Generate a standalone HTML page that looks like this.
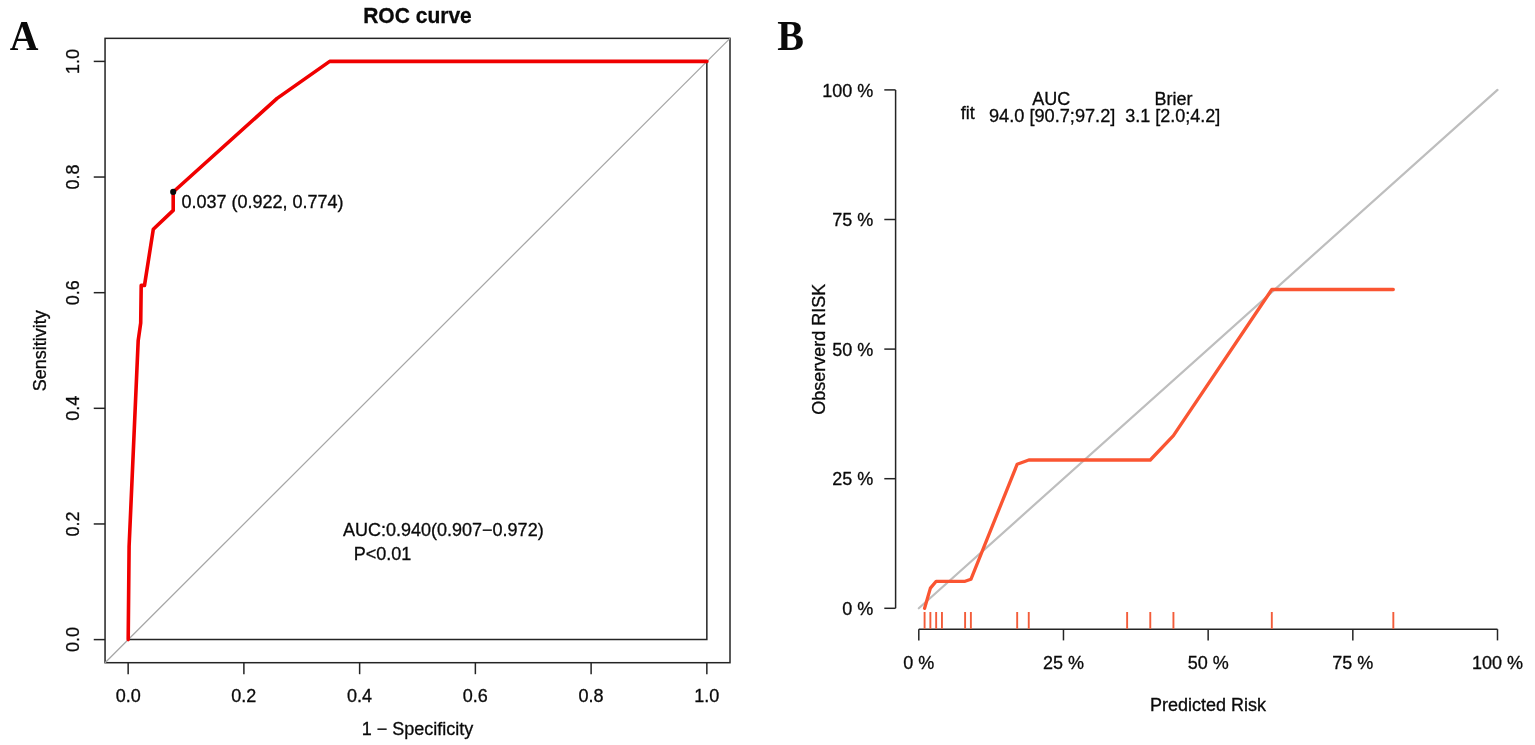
<!DOCTYPE html>
<html lang="en"><head><meta charset="utf-8"><title>ROC curve and calibration plot</title>
<style>html,body{margin:0;padding:0;background:#fff;}body{width:1535px;height:745px;overflow:hidden;}svg{display:block;}
text{font-family:"Liberation Sans",Arial,Helvetica,sans-serif;font-size:18px;fill:#0a0a0a;stroke:#0a0a0a;stroke-width:0.3px;}
.serif{font-family:"Liberation Serif","Times New Roman",Times,serif;font-weight:bold;font-size:43px;stroke:none;}
.title{font-weight:bold;font-size:21.6px;}
.ln{stroke:#242424;stroke-width:1.5;fill:none;}
</style></head><body>
<svg width="1535" height="745" viewBox="0 0 1535 745">
<rect x="0" y="0" width="1535" height="745" fill="#ffffff"/>
<text class="serif" x="9.7" y="50" textLength="28.7" lengthAdjust="spacingAndGlyphs">A</text>
<text class="title" x="417.5" y="23" text-anchor="middle" textLength="108.6" lengthAdjust="spacingAndGlyphs">ROC curve</text>
<rect class="ln" x="105.05" y="38.35" width="624.95" height="624.35"/>
<line class="ln" x1="128.15" y1="662.7" x2="128.15" y2="674.2"/>
<text x="128.15" y="702.3" text-anchor="middle">0.0</text>
<line class="ln" x1="93.75" y1="639.60" x2="105.05" y2="639.60"/>
<text transform="translate(79 639.60) rotate(-90)" text-anchor="middle">0.0</text>
<line class="ln" x1="243.89" y1="662.7" x2="243.89" y2="674.2"/>
<text x="243.89" y="702.3" text-anchor="middle">0.2</text>
<line class="ln" x1="93.75" y1="523.96" x2="105.05" y2="523.96"/>
<text transform="translate(79 523.96) rotate(-90)" text-anchor="middle">0.2</text>
<line class="ln" x1="359.63" y1="662.7" x2="359.63" y2="674.2"/>
<text x="359.63" y="702.3" text-anchor="middle">0.4</text>
<line class="ln" x1="93.75" y1="408.32" x2="105.05" y2="408.32"/>
<text transform="translate(79 408.32) rotate(-90)" text-anchor="middle">0.4</text>
<line class="ln" x1="475.37" y1="662.7" x2="475.37" y2="674.2"/>
<text x="475.37" y="702.3" text-anchor="middle">0.6</text>
<line class="ln" x1="93.75" y1="292.68" x2="105.05" y2="292.68"/>
<text transform="translate(79 292.68) rotate(-90)" text-anchor="middle">0.6</text>
<line class="ln" x1="591.11" y1="662.7" x2="591.11" y2="674.2"/>
<text x="591.11" y="702.3" text-anchor="middle">0.8</text>
<line class="ln" x1="93.75" y1="177.04" x2="105.05" y2="177.04"/>
<text transform="translate(79 177.04) rotate(-90)" text-anchor="middle">0.8</text>
<line class="ln" x1="706.85" y1="662.7" x2="706.85" y2="674.2"/>
<text x="706.85" y="702.3" text-anchor="middle">1.0</text>
<line class="ln" x1="93.75" y1="61.40" x2="105.05" y2="61.40"/>
<text transform="translate(79 61.40) rotate(-90)" text-anchor="middle">1.0</text>
<text x="417.5" y="734.6" text-anchor="middle">1 − Specificity</text>
<text transform="translate(45.9 350.8) rotate(-90)" text-anchor="middle">Sensitivity</text>
<line x1="105.05" y1="662.7" x2="730.0" y2="38.35" stroke="#a6a6a6" stroke-width="1.25"/>
<polyline class="ln" points="128.15,639.60 706.85,639.60 706.85,61.40"/>
<polyline points="128.2,639.6 129.1,546.5 138.2,340.4 140.7,323.0 141.2,285.4 144.5,285.4 153.3,229.2 173.2,210.4 173.2,192.0 277.1,98.4 329.7,61.4 706.9,61.4" fill="none" stroke="#f00000" stroke-width="3.6" stroke-linejoin="round" stroke-linecap="round"/>
<circle cx="173.2" cy="191.9" r="3.05" fill="#0a0a0a"/>
<text x="181.4" y="208.3">0.037 (0.922, 0.774)</text>
<text x="343" y="535.6">AUC:0.940(0.907−0.972)</text>
<text x="353.8" y="559.5">P&lt;0.01</text>
<text class="serif" x="777.2" y="50" textLength="26.7" lengthAdjust="spacingAndGlyphs">B</text>
<line class="ln" x1="895.6" y1="608.30" x2="895.6" y2="89.90"/>
<line class="ln" x1="918.80" y1="629.2" x2="1497.50" y2="629.2"/>
<line class="ln" x1="884.3" y1="608.30" x2="895.6" y2="608.30"/>
<text x="873.2" y="615.00" text-anchor="end">0 %</text>
<line class="ln" x1="918.80" y1="629.2" x2="918.80" y2="640.4"/>
<text x="918.80" y="668.6" text-anchor="middle">0 %</text>
<line class="ln" x1="884.3" y1="478.70" x2="895.6" y2="478.70"/>
<text x="873.2" y="485.40" text-anchor="end">25 %</text>
<line class="ln" x1="1063.47" y1="629.2" x2="1063.47" y2="640.4"/>
<text x="1063.47" y="668.6" text-anchor="middle">25 %</text>
<line class="ln" x1="884.3" y1="349.10" x2="895.6" y2="349.10"/>
<text x="873.2" y="355.80" text-anchor="end">50 %</text>
<line class="ln" x1="1208.15" y1="629.2" x2="1208.15" y2="640.4"/>
<text x="1208.15" y="668.6" text-anchor="middle">50 %</text>
<line class="ln" x1="884.3" y1="219.50" x2="895.6" y2="219.50"/>
<text x="873.2" y="226.20" text-anchor="end">75 %</text>
<line class="ln" x1="1352.83" y1="629.2" x2="1352.83" y2="640.4"/>
<text x="1352.83" y="668.6" text-anchor="middle">75 %</text>
<line class="ln" x1="884.3" y1="89.90" x2="895.6" y2="89.90"/>
<text x="873.2" y="96.60" text-anchor="end">100 %</text>
<line class="ln" x1="1497.50" y1="629.2" x2="1497.50" y2="640.4"/>
<text x="1497.50" y="668.6" text-anchor="middle">100 %</text>
<text x="1208" y="711.3" text-anchor="middle">Predicted Risk</text>
<text transform="translate(825.4 349.3) rotate(-90)" text-anchor="middle">Observerd RISK</text>
<line x1="918.80" y1="608.30" x2="1497.50" y2="89.90" stroke="#bebebe" stroke-width="2.2" stroke-linecap="round"/>
<line x1="924.59" y1="612" x2="924.59" y2="628.8" stroke="#f35c3a" stroke-width="1.9"/>
<line x1="930.37" y1="612" x2="930.37" y2="628.8" stroke="#f35c3a" stroke-width="1.9"/>
<line x1="936.16" y1="612" x2="936.16" y2="628.8" stroke="#f35c3a" stroke-width="1.9"/>
<line x1="941.95" y1="612" x2="941.95" y2="628.8" stroke="#f35c3a" stroke-width="1.9"/>
<line x1="965.10" y1="612" x2="965.10" y2="628.8" stroke="#f35c3a" stroke-width="1.9"/>
<line x1="970.88" y1="612" x2="970.88" y2="628.8" stroke="#f35c3a" stroke-width="1.9"/>
<line x1="1017.18" y1="612" x2="1017.18" y2="628.8" stroke="#f35c3a" stroke-width="1.9"/>
<line x1="1028.75" y1="612" x2="1028.75" y2="628.8" stroke="#f35c3a" stroke-width="1.9"/>
<line x1="1127.13" y1="612" x2="1127.13" y2="628.8" stroke="#f35c3a" stroke-width="1.9"/>
<line x1="1150.28" y1="612" x2="1150.28" y2="628.8" stroke="#f35c3a" stroke-width="1.9"/>
<line x1="1173.43" y1="612" x2="1173.43" y2="628.8" stroke="#f35c3a" stroke-width="1.9"/>
<line x1="1271.81" y1="612" x2="1271.81" y2="628.8" stroke="#f35c3a" stroke-width="1.9"/>
<line x1="1393.33" y1="612" x2="1393.33" y2="628.8" stroke="#f35c3a" stroke-width="1.9"/>
<polyline points="924.6,608.3 930.4,588.1 936.2,581.3 965.1,581.3 970.9,579.3 1017.2,464.2 1028.8,460.0 1150.3,460.0 1173.4,435.7 1271.8,289.5 1393.3,289.5" fill="none" stroke="#fa5532" stroke-width="3.3" stroke-linejoin="round" stroke-linecap="round"/>
<text x="1051.2" y="104.6" text-anchor="middle">AUC</text>
<text x="1173.4" y="104.6" text-anchor="middle">Brier</text>
<text x="960.8" y="118.9">fit</text>
<text x="989" y="122.3" textLength="126.3" lengthAdjust="spacingAndGlyphs">94.0 [90.7;97.2]</text>
<text x="1125.3" y="122.3">3.1 [2.0;4.2]</text>
</svg></body></html>
